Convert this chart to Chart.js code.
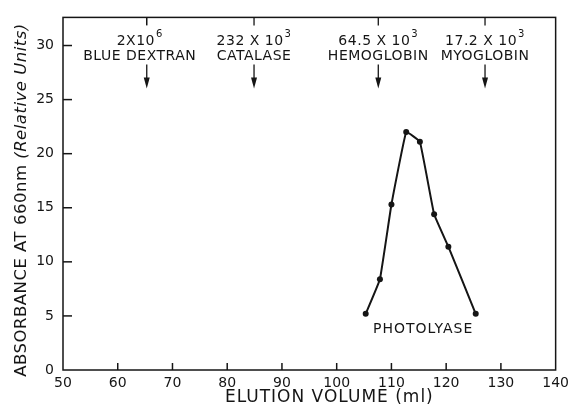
<!DOCTYPE html>
<html>
<head>
<meta charset="utf-8">
<script src="https://cdn.jsdelivr.net/npm/chart.js@4.4.1/dist/chart.umd.min.js"></script>
<style>
  html, body { margin: 0; padding: 0; background: #fff; }
  #wrap { position: relative; width: 574px; height: 406px; }
</style>
</head>
<body>
<div id="wrap"><canvas id="elutionChart"></canvas></div>
<script>
// photolyase elution profile
const elutionVolume = [105.3, 107.9, 110.0, 112.7, 115.2, 117.8, 120.4, 125.4];
const absorbance = [5.2, 8.4, 15.3, 22.0, 21.1, 14.4, 11.4, 5.2];

// molecular weight standards
const markerNames = ['BLUE DEXTRAN', 'CATALASE', 'HEMOGLOBIN', 'MYOGLOBIN'];
const markerMass = ['2X10', '232 X 10', '64.5 X 10', '17.2 X 10'];
const markerExp = ['6', '3', '3', '3'];
const markerVolume = [65.3, 84.9, 107.6, 127.1];

const xRange = [50, 140];
const yRange = [0, 32.6];
const xStep = 10;
const yStep = 5;

const INK = '#151515';
const FONT = 'DejaVu Sans';

function strokeLine(ctx, x1, y1, x2, y2) {
    ctx.beginPath();
    ctx.moveTo(x1, y1);
    ctx.lineTo(x2, y2);
    ctx.stroke();
}

function drawMass(ctx, base, exp, cx, cy) {
    ctx.font = `14px "${FONT}"`;
    const wBase = ctx.measureText(base).width;
    ctx.font = `10px "${FONT}"`;
    const wExp = ctx.measureText(exp).width;
    const start = cx - (wBase + wExp + 1) / 2;
    ctx.textAlign = 'left';
    ctx.textBaseline = 'middle';
    ctx.font = `14px "${FONT}"`;
    ctx.fillText(base, start, cy);
    ctx.font = `10px "${FONT}"`;
    ctx.fillText(exp, start + wBase + 1, cy - 7);
}

const figureDecor = {
    id: 'figureDecor',
    afterDraw(chart) {
        const { ctx, chartArea: a, scales: { x, y } } = chart;
        ctx.save();
        ctx.strokeStyle = INK;
        ctx.fillStyle = INK;
        ctx.lineWidth = 1.5;
        ctx.strokeRect(a.left, a.top, a.right - a.left, a.bottom - a.top);

        // ticks point into the plot
        x.ticks.forEach(t => {
            if (t.value <= xRange[0] || t.value >= xRange[1]) return;
            const px = x.getPixelForValue(t.value);
            strokeLine(ctx, px, a.bottom, px, a.bottom - 7);
        });
        y.ticks.forEach(t => {
            if (t.value <= yRange[0]) return;
            const py = y.getPixelForValue(t.value);
            strokeLine(ctx, a.left, py, a.left + 9, py);
        });

        // standards: tick on top edge, label, arrow
        ctx.letterSpacing = '0.5px';
        markerVolume.forEach((v, i) => {
            const px = x.getPixelForValue(v);
            strokeLine(ctx, px, a.top, px, a.top + 8);
            const shift = i === 0 ? -7 : 0;
            drawMass(ctx, markerMass[i], markerExp[i], px + shift, a.top + 24);
            ctx.font = `14px "${FONT}"`;
            ctx.textAlign = 'center';
            ctx.textBaseline = 'middle';
            ctx.fillText(markerNames[i], px + shift, a.top + 39);
            ctx.lineWidth = 1.3;
            strokeLine(ctx, px, a.top + 47, px, a.top + 62);
            ctx.beginPath();
            ctx.moveTo(px - 3, a.top + 60);
            ctx.lineTo(px + 3, a.top + 60);
            ctx.lineTo(px, a.top + 71);
            ctx.closePath();
            ctx.fill();
        });

        ctx.font = `14px "${FONT}"`;
        ctx.letterSpacing = '1px';
        ctx.textAlign = 'center';
        ctx.fillText('PHOTOLYASE', x.getPixelForValue(115.8), y.getPixelForValue(3.8));

        // axis titles
        ctx.letterSpacing = '1px';
        ctx.font = `17px "${FONT}"`;
        ctx.textBaseline = 'middle';
        ctx.fillText('ELUTION VOLUME (ml)', (a.left + a.right) / 2 + 20, 398);

        ctx.letterSpacing = '0.5px';
        ctx.translate(22, 200);
        ctx.rotate(-Math.PI / 2);
        const partA = 'ABSORBANCE AT 660nm ';
        const partB = '(Relative Units)';
        ctx.font = `16.5px "${FONT}"`;
        const wA = ctx.measureText(partA).width;
        ctx.font = `italic 16.5px "${FONT}"`;
        const wB = ctx.measureText(partB).width;
        const start = -(wA + wB) / 2;
        ctx.textAlign = 'left';
        ctx.font = `16.5px "${FONT}"`;
        ctx.fillText(partA, start, 0);
        ctx.font = `italic 16.5px "${FONT}"`;
        ctx.fillText(partB, start + wA, 0);
        ctx.restore();
    }
};

function createElutionChart() {
    const ctx = document.getElementById('elutionChart').getContext('2d');
    return new Chart(ctx, {
        type: 'scatter',
        data: {
            datasets: [{
                data: elutionVolume.map((v, i) => ({ x: v, y: absorbance[i] })),
                showLine: true,
                borderColor: INK,
                backgroundColor: INK,
                borderWidth: 2,
                tension: 0.08,
                pointRadius: 3,
                pointBackgroundColor: INK,
                pointBorderColor: INK,
                pointBorderWidth: 0
            }]
        },
        options: {
            responsive: true,
            maintainAspectRatio: false,
            animation: false,
            layout: { padding: { left: 0, right: 14, top: 15, bottom: 0 } },
            scales: {
                x: {
                    type: 'linear',
                    min: xRange[0],
                    max: xRange[1],
                    grid: { display: false, drawTicks: false },
                    border: { display: false },
                    ticks: {
                        stepSize: xStep,
                        padding: 5,
                        color: INK,
                        maxRotation: 0,
                        font: { family: FONT, size: 14 }
                    },
                    afterFit: scale => { scale.height = 36; }
                },
                y: {
                    type: 'linear',
                    min: yRange[0],
                    max: yRange[1],
                    grid: { display: false, drawTicks: false },
                    border: { display: false },
                    ticks: {
                        stepSize: yStep,
                        includeBounds: false,
                        padding: 9,
                        color: INK,
                        font: { family: FONT, size: 14 }
                    },
                    afterFit: scale => { scale.width = 63; }
                }
            },
            plugins: {
                legend: { display: false },
                tooltip: { enabled: false }
            }
        },
        plugins: [figureDecor]
    });
}

createElutionChart();
</script>
</body>
</html>
